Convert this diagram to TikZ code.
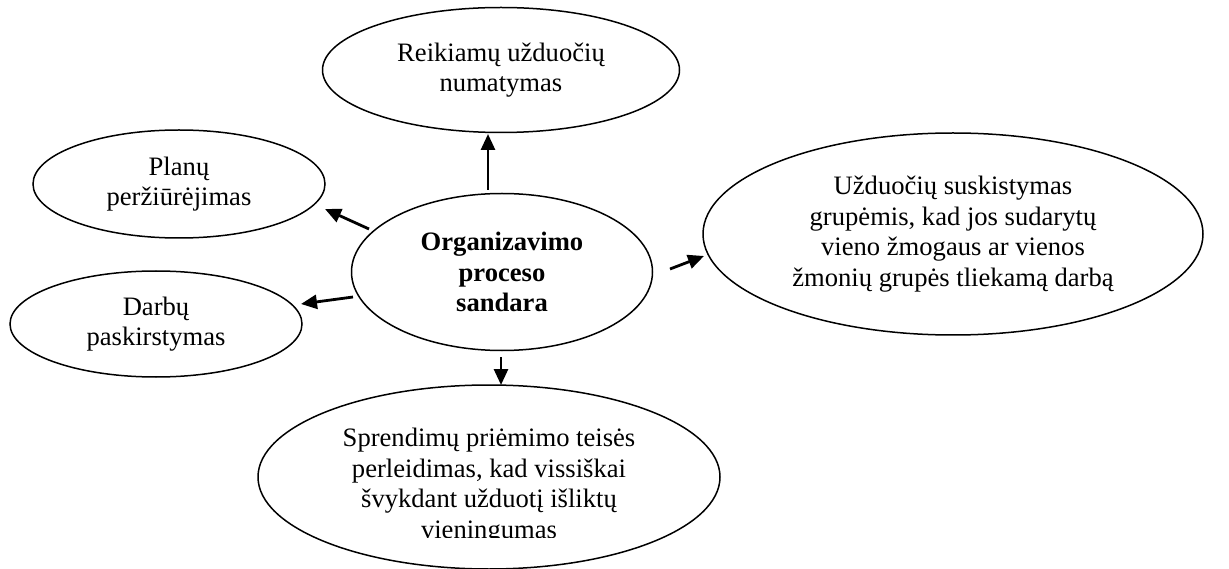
\documentclass[tikz,border=0pt]{standalone}
\usepackage{fontspec}
\setmainfont{Liberation Serif}
\usetikzlibrary{shapes.geometric,arrows.meta}
\begin{document}
\begin{tikzpicture}[x=1pt,y=-1pt,
  txt/.style={font=\fontsize{26.6}{30.5}\selectfont},
  bubble/.style={draw,ellipse,line width=1.5pt,inner sep=0pt,align=center,txt},
  arr/.style={line width=2.8pt,-{Triangle[length=16pt,width=14pt]}}]
\useasboundingbox (0,0) rectangle (1229,569);
% ellipses
\node[bubble,minimum width=357pt,minimum height=125pt] (top) at (501,70)
  {Reikiamų užduočių\\numatymas};
\node[bubble,minimum width=292pt,minimum height=108pt] (plan) at (179,184)
  {Planų\\peržiūrėjimas};
\node[bubble,minimum width=292pt,minimum height=106pt] (darb) at (156,324)
  {Darbų\\paskirstymas};
\node[bubble,minimum width=301pt,minimum height=157pt,font=\fontsize{26.6}{30.5}\selectfont\bfseries] (cen) at (502,272)
  {Organizavimo\\proceso\\sandara};
\node[bubble,minimum width=500pt,minimum height=202pt] (right) at (953,234)
  {Užduočių suskistymas\\grupėmis, kad jos sudarytų\\vieno žmogaus ar vienos\\žmonių grupės tliekamą darbą};
\node[bubble,minimum width=462pt,minimum height=184pt] (bot) at (489,477) {};
% text box of the lower ellipse, cut off at its bottom edge
\begin{scope}
  \clip (250,380) rectangle (730,537);
  \node[align=center,inner sep=0pt,txt] (bottext) at (489,486)
    {Sprendimų priėmimo teisės\\perleidimas, kad vissiškai\\švykdant užduotį išliktų\\vieningumas};
\end{scope}
% arrow ends
\coordinate (t1) at (488,190); \coordinate (h1) at (488,134);
\coordinate (t2) at (369,229); \coordinate (h2) at (325,209);
\coordinate (t3) at (353,297); \coordinate (h3) at (301,304);
\coordinate (t4) at (670,269); \coordinate (h4) at (704,256);
\coordinate (t5) at (501,357); \coordinate (h5) at (501,385);
\draw[arr] (t1) -- (h1);
\draw[arr] (t2) -- (h2);
\draw[arr] (t3) -- (h3);
\draw[arr] (t4) -- (h4);
\draw[arr] (t5) -- (h5);
\end{tikzpicture}
\end{document}
